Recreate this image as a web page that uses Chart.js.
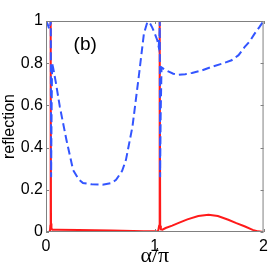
<!DOCTYPE html>
<html>
<head>
<meta charset="utf-8">
<script src="https://cdn.jsdelivr.net/npm/chart.js@4"></script>
<style>
  html, body { margin: 0; padding: 0; background: #fff; }
  canvas { display: block; }
</style>
</head>
<body>
<canvas id="reflChart" width="273" height="273"></canvas>
<script>
// reflection vs alpha/pi
var blueX = [0, 0.015, 0.03, 0.04, 0.044, 0.047, 0.051, 0.056, 0.065, 0.09, 0.127, 0.188, 0.249, 0.3, 0.34, 0.42, 0.52, 0.6, 0.644, 0.7, 0.735, 0.795, 0.856, 0.9, 0.932, 0.955, 0.976, 1.0, 1.023, 1.036, 1.043, 1.046, 1.049, 1.054, 1.062, 1.09, 1.129, 1.17, 1.22, 1.28, 1.342, 1.43, 1.524, 1.62, 1.706, 1.77, 1.827, 1.875, 1.918, 1.96, 2.0];
var blueY = [1.0, 0.985, 0.962, 0.985, 1.0, 0.26, 0.55, 0.80, 0.78, 0.71, 0.594, 0.436, 0.294, 0.25, 0.232, 0.226, 0.224, 0.232, 0.247, 0.29, 0.342, 0.50, 0.75, 0.94, 0.995, 0.99, 0.97, 0.94, 0.909, 0.877, 0.93, 1.0, 0.26, 0.55, 0.78, 0.77, 0.76, 0.75, 0.745, 0.748, 0.754, 0.765, 0.783, 0.798, 0.814, 0.838, 0.877, 0.905, 0.94, 0.97, 1.0];

var redX = [0, 0.02, 0.036, 0.04, 0.043, 0.046, 0.05, 0.058, 0.1, 0.3, 0.6, 0.9, 1.0, 1.03, 1.04, 1.045, 1.05, 1.056, 1.07, 1.1, 1.16, 1.22, 1.3, 1.4, 1.494, 1.58, 1.676, 1.75, 1.83, 1.9, 1.95, 2.0];
var redY = [0, 0, 0.002, 0.03, 1.0, 0.04, 0.018, 0.011, 0.011, 0.009, 0.007, 0.004, 0.003, 0.002, 0.03, 1.0, 0.03, 0.012, 0.011, 0.019, 0.03, 0.043, 0.06, 0.076, 0.082, 0.076, 0.058, 0.042, 0.026, 0.01, 0.003, 0];

var xTicks = [0, 1, 2];
var yTicks = [0, 0.2, 0.4, 0.6, 0.8, 1];

function toPoints(xs, ys) {
    return xs.map(function (x, i) { return { x: x, y: ys[i] }; });
}

// MATLAB style box with inward ticks and the "(b)" tag
var boxPlugin = {
    id: 'boxPlugin',
    afterDraw: function (chart) {
        var ctx = chart.ctx;
        var a = chart.chartArea;
        var xs = chart.scales.x, ys = chart.scales.y;
        ctx.save();
        ctx.strokeStyle = '#808080';
        ctx.lineWidth = 1;
        ctx.strokeRect(a.left + 0.5, a.top + 0.5, a.right - a.left - 1, a.bottom - a.top - 1);
        ctx.beginPath();
        xTicks.forEach(function (v) {
            var px = Math.round(xs.getPixelForValue(v)) + 0.5;
            ctx.moveTo(px, a.bottom); ctx.lineTo(px, a.bottom - 3);
            ctx.moveTo(px, a.top); ctx.lineTo(px, a.top + 3);
        });
        yTicks.forEach(function (v) {
            var py = Math.round(ys.getPixelForValue(v)) + 0.5;
            ctx.moveTo(a.left, py); ctx.lineTo(a.left + 3, py);
            ctx.moveTo(a.right, py); ctx.lineTo(a.right - 3, py);
        });
        ctx.stroke();
        ctx.fillStyle = '#000';
        ctx.font = '19px "Liberation Sans", Arial, sans-serif';
        ctx.textAlign = 'center';
        ctx.textBaseline = 'middle';
        ctx.fillText('(b)', xs.getPixelForValue(0.36), ys.getPixelForValue(0.885));
        ctx.restore();
    }
};

var ctxRefl = document.getElementById('reflChart').getContext('2d');
var reflChart = new Chart(ctxRefl, {
    type: 'scatter',
    data: {
        datasets: [{
            label: 'blue',
            data: toPoints(blueX, blueY),
            showLine: true,
            borderColor: '#3355ff',
            borderWidth: 2,
            borderDash: [8, 4],
            pointRadius: 0,
            tension: 0
        }, {
            label: 'red',
            data: toPoints(redX, redY),
            showLine: true,
            borderColor: '#ff1a1a',
            borderWidth: 2,
            pointRadius: 0,
            tension: 0
        }]
    },
    options: {
        responsive: false,
        animation: false,
        layout: { padding: { left: 0, right: 7, top: 21, bottom: 0 } },
        plugins: { legend: { display: false }, tooltip: { enabled: false } },
        scales: {
            x: {
                type: 'linear',
                min: 0, max: 2,
                grid: { display: false, drawTicks: false },
                border: { display: false },
                afterBuildTicks: function (s) { s.ticks = xTicks.map(function (v) { return { value: v }; }); },
                afterFit: function (s) { s.height = 41; },
                ticks: { color: '#000', padding: 5, maxRotation: 0, autoSkip: false, callback: function (v) { return String(v); }, font: { family: '"Liberation Sans", Arial, sans-serif', size: 16 } },
                title: { display: true, text: 'α/π', color: '#000', padding: { top: 0, bottom: 4 }, font: { family: '"Liberation Serif", "Times New Roman", serif', size: 22 } }
            },
            y: {
                type: 'linear',
                min: 0, max: 1,
                grid: { display: false, drawTicks: false },
                border: { display: false },
                afterBuildTicks: function (s) { s.ticks = yTicks.map(function (v) { return { value: v }; }); },
                afterFit: function (s) { s.width = 46; },
                ticks: { color: '#000', padding: 3, autoSkip: false, callback: function (v) { return String(v); }, font: { family: '"Liberation Sans", Arial, sans-serif', size: 16 } },
                title: { display: true, text: 'reflection', color: '#000', padding: { top: 0, bottom: 0 }, font: { family: '"Liberation Sans", Arial, sans-serif', size: 16 } }
            }
        }
    },
    plugins: [boxPlugin]
});
</script>
</body>
</html>
